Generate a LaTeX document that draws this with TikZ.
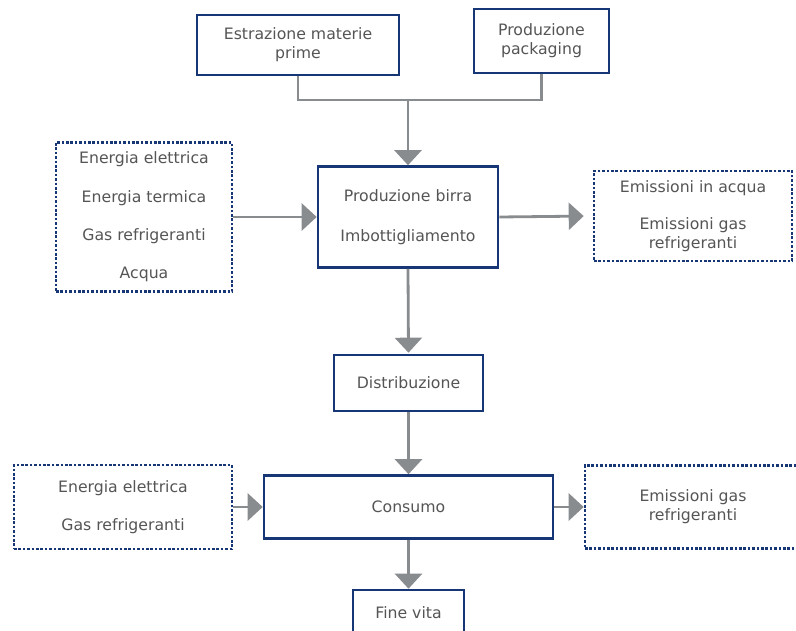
\documentclass[tikz,border=0pt]{standalone}
\usepackage{fontspec}
\setmainfont{DejaVu Sans}
\usetikzlibrary{arrows.meta}

\definecolor{navy}{RGB}{22,54,118}
\definecolor{flowgray}{RGB}{137,140,143}
\definecolor{textgray}{RGB}{85,85,85}

\begin{document}
\begin{tikzpicture}[x=1pt,y=-1pt,
    process/.style ={rectangle, draw=navy, line width=2.6pt, fill=white, text=textgray,
      inner sep=0pt, align=center, font=\fontsize{15.7}{19}\selectfont},
    resource/.style ={rectangle, draw=navy, line width=2.6pt, dash pattern=on 2.6pt off 1.8pt,
      fill=white, text=textgray, inner sep=0pt, align=center, font=\fontsize{15.7}{19}\selectfont},
    flow/.style ={draw=flowgray, line width=2.8pt, -{Triangle[length=15pt,width=27pt]}},
    link/.style ={draw=flowgray, line width=2.8pt}]
   \clip (0,0) rectangle (796,631);
   \fill[white] (0,0) rectangle (796,631);

   \node[process, minimum width=202pt, minimum height=60pt] (estr) at (298,45)  {Estrazione materie\\prime};
   \node[process, minimum width=135pt, minimum height=64pt] (pack) at (541.5,41)  {Produzione\\packaging};
   \coordinate (junc) at (408,100);
   \node[process, minimum width=180pt, minimum height=101pt] (birra) at (408,217)  {Produzione birra\\[21pt]Imbottigliamento};
   \node[resource, minimum width=176pt, minimum height=149pt] (in1) at (144,217)  {Energia elettrica\\[19.3pt]Energia termica\\[19.3pt]Gas refrigeranti\\[19.3pt]Acqua};
   \node[resource, minimum width=198pt, minimum height=90pt] (out1) at (693,216)  {Emissioni in acqua\\[18pt]Emissioni gas\\refrigeranti};
   \node[process, minimum width=149pt, minimum height=56pt] (distr) at (408.5,383)  {Distribuzione};
   \node[process, minimum width=289pt, minimum height=63pt] (cons) at (408.5,507)  {Consumo};
   \node[resource, minimum width=218pt, minimum height=84pt] (in2) at (123,507)  {Energia elettrica\\[19pt]Gas refrigeranti};
   \node[resource, minimum width=216pt, minimum height=83pt] (out2) at (693,507)  {Emissioni gas\\refrigeranti};
   \node[process, minimum width=111pt, minimum height=46pt] (fine) at (408.5,613)  {Fine vita};

   \draw[link] (estr.south) |- (junc);
   \draw[link] (pack.south) |- (junc);
   \draw[flow] (junc) to (birra.north);
   \draw[flow] (in1.east) to (birra.west);
   \draw[flow, shorten >=9pt] (birra.east) to (out1.west);
   \draw[flow, shorten >=1pt] (birra.south) to (distr.north);
   \draw[flow] (distr.south) to (cons.north);
   \draw[flow] (in2.east) to (cons.west);
   \draw[flow] (cons.east) to (out2.west);
   \draw[flow] (cons.south) to (fine.north);
 \end{tikzpicture}
\end{document}
